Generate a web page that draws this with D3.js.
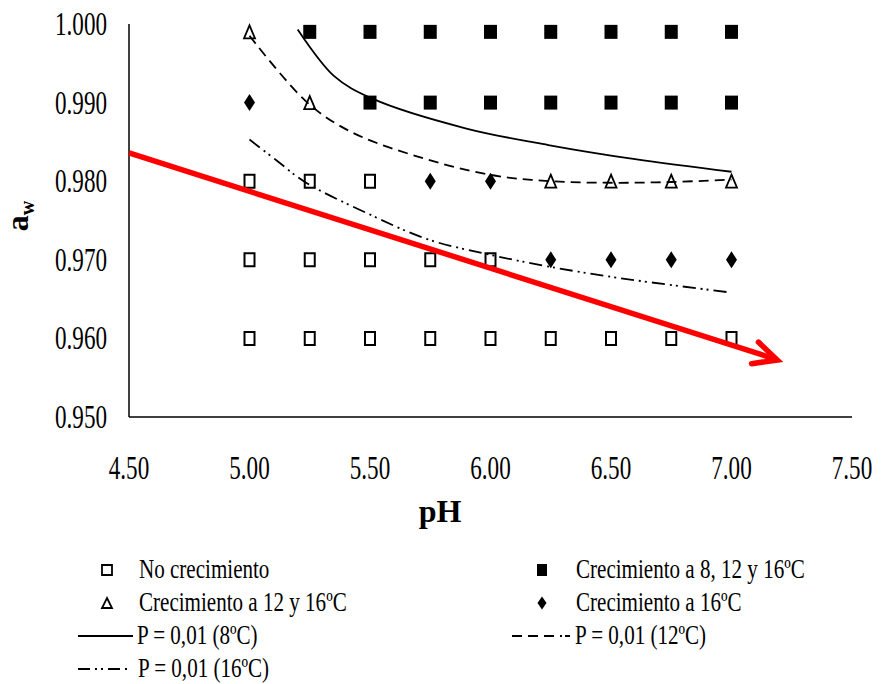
<!DOCTYPE html>
<html>
<head>
<meta charset="utf-8">
<script src="https://cdn.jsdelivr.net/npm/d3@7"></script>
<style>
  html, body { margin: 0; padding: 0; background: #fff; }
  svg { display: block; font-family: "Liberation Serif", "Times New Roman", serif; }
</style>
</head>
<body>
<div id="chart"></div>
<script>
// --- Data (pH, aw) ---
const xTicks = [4.5, 5.0, 5.5, 6.0, 6.5, 7.0, 7.5];
const yTicks = [0.95, 0.96, 0.97, 0.98, 0.99, 1.0];

const noGrowth = [
  [5.0, 0.98], [5.25, 0.98], [5.5, 0.98],
  [5.0, 0.97], [5.25, 0.97], [5.5, 0.97], [5.75, 0.97], [6.0, 0.97],
  [5.0, 0.96], [5.25, 0.96], [5.5, 0.96], [5.75, 0.96], [6.0, 0.96],
  [6.25, 0.96], [6.5, 0.96], [6.75, 0.96], [7.0, 0.96],
];
const growthAll = [
  [5.25, 0.999], [5.5, 0.999], [5.75, 0.999], [6.0, 0.999],
  [6.25, 0.999], [6.5, 0.999], [6.75, 0.999], [7.0, 0.999],
  [5.5, 0.99], [5.75, 0.99], [6.0, 0.99], [6.25, 0.99],
  [6.5, 0.99], [6.75, 0.99], [7.0, 0.99],
];
const growth12and16 = [
  [5.0, 0.999], [5.25, 0.99], [6.25, 0.98], [6.5, 0.98], [6.75, 0.98], [7.0, 0.98],
];
const growth16 = [
  [5.0, 0.99], [5.75, 0.98], [6.0, 0.98],
  [6.25, 0.97], [6.5, 0.97], [6.75, 0.97], [7.0, 0.97],
];

// P = 0.01 boundaries
const p8 = [
  [5.20, 0.9993], [5.35, 0.9934], [5.51, 0.9905], [5.90, 0.9867],
  [6.24, 0.9846], [6.60, 0.9828], [7.0, 0.9812],
];
const p12 = [
  [5.0, 0.9985], [5.24, 0.9900], [5.42, 0.9863], [5.68, 0.9833],
  [6.0, 0.9808], [6.25, 0.9800], [6.5, 0.9798], [6.75, 0.9799], [7.0, 0.9802],
];
const p16 = [
  [5.0, 0.9853], [5.11, 0.9827], [5.23, 0.9799], [5.49, 0.9759], [5.74, 0.9726],
  [5.99, 0.9707], [6.23, 0.9692], [6.53, 0.9677], [6.98, 0.9659],
];

// red trend arrow (start, tip)
const trendArrow = [[4.5, 0.9836], [7.19, 0.95725]];

// --- Layout ---
const width = 883, height = 684;
const x = d3.scaleLinear().domain([4.5, 7.5]).range([129, 852]);
const y = d3.scaleLinear().domain([0.95, 1.0]).range([417, 24]);

const svg = d3.select("#chart").append("svg")
  .attr("width", width).attr("height", height);

function squeeze(sel, k) {
  sel.each(function () {
    const w = this.getComputedTextLength();
    d3.select(this).attr("textLength", w * k).attr("lengthAdjust", "spacingAndGlyphs");
  });
}

// --- Axes (lines + labels, no ticks) ---
svg.append("line")
  .attr("x1", x(4.5)).attr("x2", x(4.5)).attr("y1", y(1.0)).attr("y2", y(0.95))
  .attr("stroke", "#000").attr("stroke-width", 1.5);
svg.append("line")
  .attr("x1", x(4.5)).attr("x2", x(7.5)).attr("y1", y(0.95)).attr("y2", y(0.95))
  .attr("stroke", "#000").attr("stroke-width", 1.5);

const yLab = svg.append("g").selectAll("text").data(yTicks).join("text")
  .attr("x", 107).attr("y", (d) => y(d) + 11)
  .attr("text-anchor", "end").attr("font-size", 33)
  .text((d) => d3.format(".3f")(d));
squeeze(yLab, 0.7);

const xLab = svg.append("g").selectAll("text").data(xTicks).join("text")
  .attr("x", (d) => x(d)).attr("y", 479)
  .attr("text-anchor", "middle").attr("font-size", 33)
  .text((d) => d3.format(".2f")(d));
squeeze(xLab, 0.7);

svg.append("text")
  .attr("x", 440).attr("y", 522).attr("text-anchor", "middle")
  .attr("font-size", 32).attr("font-weight", "bold")
  .text("pH");

const aw = svg.append("text")
  .attr("transform", "translate(28,216) rotate(-90)")
  .attr("text-anchor", "middle").attr("font-weight", "bold");
aw.append("tspan").attr("font-size", 32).text("a");
aw.append("tspan").attr("font-size", 20).attr("dy", 6).text("w");

// --- Curves ---
const line = d3.line()
  .x((d) => x(d[0])).y((d) => y(d[1]))
  .curve(d3.curveCatmullRom.alpha(0.5));

const curveStyles = [
  { data: p8, dash: null },
  { data: p12, dash: "10,6" },
  { data: p16, dash: "13,5,2,4,2,5" },
];
svg.append("g").selectAll("path").data(curveStyles).join("path")
  .attr("d", (d) => line(d.data))
  .attr("fill", "none").attr("stroke", "#000").attr("stroke-width", 1.8)
  .attr("stroke-dasharray", (d) => d.dash);

// --- Marker shapes ---
function rectPath(w, h) {
  return `M${-w / 2},${-h / 2}h${w}v${h}h${-w}Z`;
}
function triPath(w, h) {
  return `M0,${-h / 2}L${w / 2},${h / 2}L${-w / 2},${h / 2}Z`;
}
function diaPath(w, h) {
  return `M0,${-h / 2}L${w / 2},0L0,${h / 2}L${-w / 2},0Z`;
}

const markerSets = [
  { data: noGrowth, path: rectPath(10, 13), fill: "none", stroke: 2 },
  { data: growthAll, path: rectPath(13, 14), fill: "#000", stroke: 0 },
  { data: growth12and16, path: triPath(11, 13), fill: "none", stroke: 1.8 },
  { data: growth16, path: diaPath(11, 17), fill: "#000", stroke: 0 },
];
markerSets.forEach((m) => {
  svg.append("g").selectAll("path").data(m.data).join("path")
    .attr("transform", (d) => `translate(${x(d[0])},${y(d[1])})`)
    .attr("d", m.path)
    .attr("fill", m.fill)
    .attr("stroke", m.stroke ? "#000" : "none")
    .attr("stroke-width", m.stroke);
});

// --- Red arrow ---
const [a0, a1] = trendArrow.map((d) => [x(d[0]), y(d[1])]);
const ang = Math.atan2(a1[1] - a0[1], a1[0] - a0[0]);
const armLen = 26, armAng = 0.45;
const red = svg.append("g").attr("stroke", "#ff0000").attr("stroke-width", 5.5)
  .attr("stroke-linecap", "round").attr("fill", "none");
red.append("line").attr("x1", a0[0]).attr("y1", a0[1]).attr("x2", a1[0] - 2).attr("y2", a1[1] - 1)
  .attr("stroke-linecap", "butt");
red.append("path")
  .attr("stroke-linejoin", "miter")
  .attr("d", `M${a1[0] - armLen * Math.cos(ang - armAng)},${a1[1] - armLen * Math.sin(ang - armAng)}` +
    `L${a1[0]},${a1[1]}` +
    `L${a1[0] - armLen * Math.cos(ang + armAng)},${a1[1] - armLen * Math.sin(ang + armAng)}`);

// --- Legend ---
const legendItems = [
  { label: "No crecimiento", kind: "marker", path: rectPath(10, 10), fill: "none", mx: 107, tx: 139, ty: 578 },
  { label: "Crecimiento a 8, 12 y 16ºC", kind: "marker", path: rectPath(10, 12), fill: "#000", mx: 542, tx: 576, ty: 578 },
  { label: "Crecimiento a 12 y 16ºC", kind: "marker", path: triPath(10, 10), fill: "none", mx: 107, tx: 139, ty: 611 },
  { label: "Crecimiento a 16ºC", kind: "marker", path: diaPath(9, 13), fill: "#000", mx: 542, tx: 576, ty: 611 },
  { label: "P = 0,01 (8ºC)", kind: "line", dash: null, lx: [78, 133], tx: 137, ty: 644 },
  { label: "P = 0,01 (12ºC)", kind: "line", dash: "10,6,10,6,10,6,2,3", lx: [512, 570], tx: 575, ty: 644 },
  { label: "P = 0,01 (16ºC)", kind: "line", dash: "12,5,2,4,2,5", lx: [78, 131], tx: 138, ty: 677 },
];

const leg = svg.append("g");
legendItems.forEach((it) => {
  const my = it.ty - 8;
  if (it.kind === "marker") {
    leg.append("path")
      .attr("transform", `translate(${it.mx},${my})`)
      .attr("d", it.path).attr("fill", it.fill)
      .attr("stroke", it.fill === "none" ? "#000" : "none").attr("stroke-width", 1.8);
  } else {
    leg.append("line")
      .attr("x1", it.lx[0]).attr("x2", it.lx[1]).attr("y1", my).attr("y2", my)
      .attr("stroke", "#000").attr("stroke-width", 1.8)
      .attr("stroke-dasharray", it.dash);
  }
  const t = leg.append("text").attr("x", it.tx).attr("y", it.ty)
    .attr("font-size", 27).text(it.label);
  squeeze(t, 0.78);
});
</script>
</body>
</html>
